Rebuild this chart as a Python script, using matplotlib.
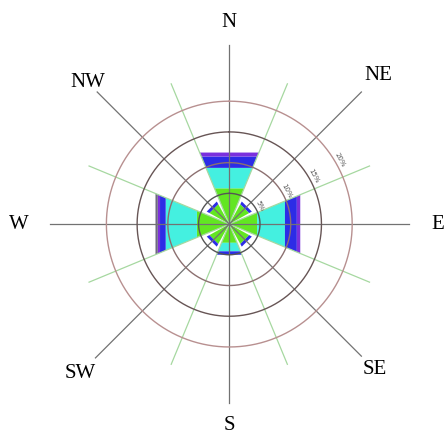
import numpy as np
import matplotlib
matplotlib.use("Agg")
import matplotlib.pyplot as plt

# wind directions (compass degrees, clockwise from north)
directions = ["N", "NE", "E", "SE", "S", "SW", "W", "NW"]
angles_deg = [0, 45, 90, 135, 180, 225, 270, 315]

# stacked frequency classes (%), one value per direction
green = [6.3, 3.7, 4.9, 3.7, 3.3, 3.7, 5.7, 3.7]
cyan = [3.6, 0.0, 4.9, 0.0, 1.5, 0.0, 5.5, 0.0]
blue = [2.0, 0.5, 2.1, 0.5, 0.6, 0.5, 1.0, 0.5]
violet = [0.7, 0.0, 0.6, 0.0, 0.0, 0.0, 0.4, 0.0]
grey = [0.0, 0.0, 0.0, 0.0, 0.0, 0.0, 0.4, 0.0]

rings = [5, 10, 15, 20]
ring_labels = ["5%", "10%", "15%", "20%"]

classes = [green, cyan, blue, violet, grey]
class_colors = ["#62e622", "#44f0e0", "#2c2ce6", "#7a30dd", "#6e6a80"]

fig = plt.figure(figsize=(4.48, 4.33), dpi=100)
ax = fig.add_axes([0.0453, 0.0, 0.933, 0.965], projection="polar")
ax.set_theta_zero_location("N")
ax.set_theta_direction(-1)
ax.set_rlim(0, 34)
ax.set_axis_off()

# bars drawn as straight-edged wedges
for i, a in enumerate(angles_deg):
    half = 22.5 if a % 90 == 0 else 16
    t0 = np.radians(a - half)
    t1 = np.radians(a + half)
    base = 0.0
    for vals, col in zip(classes, class_colors):
        v = vals[i]
        if v <= 0:
            continue
        ax.fill([t0, t1, t1, t0], [base, base, base + v, base + v],
                color=col, lw=0, zorder=2)
        base += v

# green 22.5 deg guide lines
for a in np.arange(22.5, 360, 45):
    ax.plot([np.radians(a)] * 2, [0, 24.7], color="#a6d8a0", lw=0.9, zorder=3)

# main spokes
spoke_len = [29.1, 30.4, 29.2, 30.4, 29.1, 30.8, 29.1, 30.4]
for a, L in zip(angles_deg, spoke_len):
    ax.plot([np.radians(a)] * 2, [0, L], color="#727272", lw=0.9, zorder=4)

# rings
theta = np.linspace(0, 2 * np.pi, 721)
ring_colors = ["#555555", "#8c7070", "#675555", "#b89090"]
for r, c in zip(rings, ring_colors):
    ax.plot(theta, np.full_like(theta, r), color=c, lw=1.0, zorder=4)

# ring labels
for r, lab in zip(rings, ring_labels):
    ax.text(np.radians(60), r + 0.8, lab, fontsize=5, color="#555555",
            rotation=-62, ha="center", va="center", zorder=5)

# compass labels
label_r = [32.8, 34.2, 34.0, 33.4, 32.7, 34.3, 34.2, 32.6]
for name, a, r in zip(directions, angles_deg, label_r):
    ax.text(np.radians(a), r, name, fontsize=15, family="Liberation Serif",
            ha="center", va="center", clip_on=False)

fig.savefig("out.png", dpi=100, facecolor="white")
